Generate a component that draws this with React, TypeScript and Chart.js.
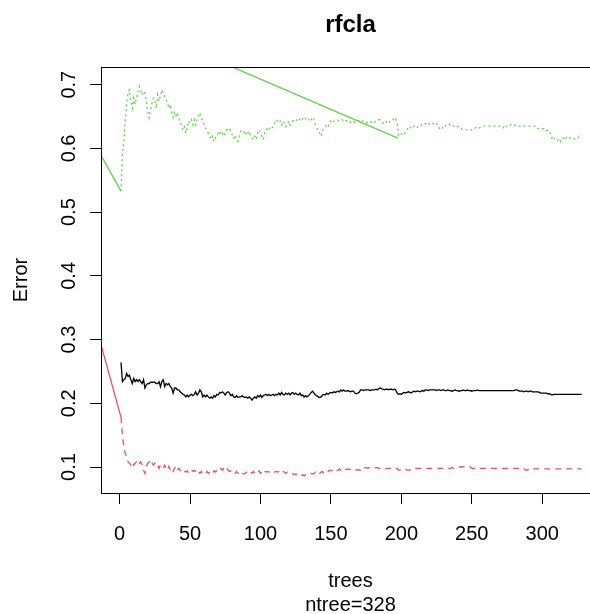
import React, { useEffect, useRef } from 'react';
import { Chart, registerables } from 'chart.js';

Chart.register(...registerables);

const chartTitle = 'rfcla';
const xTitle = 'trees';
const subTitle = 'ntree=328';
const yTitle = 'Error';

const xTickValues = [0, 50, 100, 150, 200, 250, 300];
const xTickLabels = ['0', '50', '100', '150', '200', '250', '300'];
const yTickValues = [0.1, 0.2, 0.3, 0.4, 0.5, 0.6, 0.7];
const yTickLabels = ['0.1', '0.2', '0.3', '0.4', '0.5', '0.6', '0.7'];

const X_MIN = -13.2;
const X_MAX = 341;
const Y_MIN = 0.0592;
const Y_MAX = 0.7278;

// OOB error (black, solid), trees 1..328
const oobError = [
  0.264,0.234,0.237,0.239,0.247,0.242,0.244,0.237,0.231,0.239,
  0.234,0.237,0.234,0.237,0.234,0.231,0.237,0.224,0.229,0.231,
  0.231,0.233,0.233,0.233,0.233,0.231,0.231,0.234,0.226,0.234,
  0.237,0.226,0.231,0.229,0.231,0.226,0.224,0.216,0.224,0.224,
  0.221,0.221,0.218,0.216,0.214,0.213,0.210,0.213,0.210,0.213,
  0.214,0.212,0.214,0.218,0.213,0.216,0.221,0.218,0.210,0.213,
  0.210,0.213,0.210,0.208,0.210,0.208,0.212,0.210,0.214,0.213,
  0.217,0.216,0.218,0.216,0.213,0.217,0.218,0.216,0.212,0.214,
  0.210,0.209,0.212,0.209,0.210,0.210,0.212,0.210,0.209,0.210,
  0.208,0.210,0.208,0.205,0.208,0.210,0.208,0.212,0.210,0.213,
  0.209,0.212,0.213,0.214,0.212,0.214,0.212,0.213,0.214,0.212,
  0.214,0.213,0.216,0.213,0.217,0.214,0.213,0.216,0.214,0.216,
  0.213,0.216,0.217,0.214,0.216,0.214,0.213,0.216,0.212,0.213,
  0.210,0.212,0.210,0.212,0.214,0.217,0.219,0.216,0.213,0.212,
  0.210,0.209,0.210,0.213,0.214,0.213,0.216,0.214,0.216,0.217,
  0.216,0.218,0.217,0.218,0.219,0.218,0.221,0.219,0.221,0.219,
  0.219,0.220,0.219,0.218,0.219,0.219,0.216,0.215,0.216,0.217,
  0.221,0.221,0.220,0.221,0.221,0.221,0.221,0.220,0.221,0.221,
  0.221,0.222,0.221,0.223,0.224,0.223,0.222,0.221,0.222,0.222,
  0.221,0.222,0.222,0.221,0.222,0.221,0.216,0.214,0.215,0.214,
  0.216,0.217,0.216,0.217,0.218,0.217,0.216,0.218,0.219,0.218,
  0.219,0.219,0.218,0.219,0.220,0.219,0.221,0.221,0.220,0.221,
  0.221,0.221,0.221,0.221,0.220,0.221,0.221,0.220,0.221,0.221,
  0.220,0.220,0.221,0.220,0.220,0.219,0.220,0.221,0.220,0.220,
  0.219,0.220,0.220,0.221,0.220,0.220,0.221,0.220,0.220,0.219,
  0.220,0.220,0.220,0.221,0.220,0.220,0.220,0.220,0.220,0.220,
  0.220,0.220,0.220,0.220,0.220,0.220,0.220,0.220,0.220,0.220,
  0.220,0.220,0.220,0.220,0.220,0.220,0.220,0.220,0.220,0.220,
  0.221,0.221,0.220,0.219,0.219,0.219,0.218,0.219,0.219,0.218,
  0.219,0.219,0.218,0.218,0.218,0.218,0.218,0.217,0.216,0.216,
  0.216,0.216,0.216,0.215,0.215,0.214,0.213,0.214,0.214,0.214,
  0.214,0.214,0.214,0.214,0.214,0.214,0.214,0.214,0.214,0.214,
  0.214,0.214,0.214,0.214,0.214,0.214,0.214,0.214,
];

// class 1 error (red, dashed)
const class1Error = [
  0.178,0.150,0.132,0.122,0.116,0.108,0.106,0.103,0.108,0.103,
  0.106,0.108,0.103,0.106,0.108,0.103,0.095,0.090,0.101,0.106,
  0.108,0.103,0.106,0.103,0.106,0.101,0.103,0.098,0.103,0.101,
  0.098,0.103,0.098,0.095,0.101,0.095,0.098,0.093,0.098,0.101,
  0.095,0.098,0.095,0.093,0.090,0.093,0.092,0.094,0.090,0.093,
  0.095,0.093,0.095,0.093,0.090,0.093,0.090,0.093,0.090,0.092,
  0.090,0.093,0.090,0.092,0.093,0.090,0.094,0.092,0.095,0.093,
  0.095,0.098,0.095,0.098,0.095,0.098,0.095,0.093,0.094,0.092,
  0.093,0.090,0.093,0.090,0.092,0.093,0.090,0.089,0.090,0.092,
  0.089,0.090,0.092,0.090,0.093,0.090,0.093,0.092,0.094,0.090,
  0.093,0.090,0.093,0.092,0.093,0.092,0.093,0.092,0.090,0.092,
  0.093,0.092,0.093,0.092,0.090,0.093,0.092,0.090,0.092,0.090,
  0.089,0.090,0.089,0.088,0.089,0.088,0.089,0.088,0.086,0.088,
  0.086,0.088,0.089,0.088,0.089,0.090,0.089,0.090,0.092,0.090,
  0.092,0.090,0.092,0.093,0.090,0.092,0.094,0.093,0.095,0.094,
  0.095,0.093,0.095,0.094,0.095,0.097,0.095,0.097,0.095,0.097,
  0.096,0.097,0.096,0.097,0.096,0.096,0.095,0.095,0.096,0.095,
  0.095,0.096,0.095,0.099,0.099,0.098,0.099,0.099,0.098,0.099,
  0.099,0.099,0.099,0.098,0.098,0.099,0.098,0.098,0.097,0.098,
  0.098,0.098,0.098,0.097,0.098,0.098,0.098,0.095,0.095,0.096,
  0.095,0.095,0.096,0.095,0.095,0.095,0.098,0.098,0.098,0.098,
  0.098,0.098,0.098,0.098,0.098,0.098,0.098,0.098,0.098,0.098,
  0.098,0.098,0.098,0.098,0.098,0.098,0.098,0.098,0.098,0.098,
  0.098,0.098,0.098,0.098,0.098,0.099,0.098,0.098,0.098,0.099,
  0.100,0.100,0.100,0.101,0.100,0.100,0.100,0.100,0.100,0.098,
  0.098,0.098,0.098,0.098,0.098,0.098,0.098,0.098,0.098,0.098,
  0.098,0.098,0.098,0.098,0.098,0.098,0.098,0.098,0.098,0.098,
  0.098,0.098,0.098,0.098,0.098,0.098,0.098,0.098,0.098,0.098,
  0.098,0.098,0.098,0.098,0.098,0.098,0.098,0.095,0.095,0.096,
  0.095,0.095,0.097,0.097,0.097,0.097,0.097,0.097,0.097,0.097,
  0.097,0.097,0.097,0.097,0.097,0.097,0.097,0.097,0.097,0.097,
  0.097,0.097,0.097,0.097,0.097,0.097,0.097,0.097,0.097,0.097,
  0.097,0.097,0.097,0.097,0.097,0.097,0.097,0.097,
];

// class 2 error (green, dotted)
const class2Error = [
  0.533,0.590,0.611,0.643,0.671,0.687,0.692,0.674,0.663,0.679,
  0.669,0.679,0.687,0.697,0.690,0.684,0.690,0.687,0.674,0.658,
  0.648,0.661,0.671,0.679,0.677,0.663,0.684,0.674,0.684,0.692,
  0.687,0.682,0.677,0.671,0.663,0.669,0.656,0.648,0.656,0.651,
  0.656,0.648,0.640,0.637,0.629,0.634,0.624,0.632,0.643,0.640,
  0.645,0.637,0.645,0.637,0.645,0.651,0.656,0.648,0.643,0.637,
  0.632,0.627,0.624,0.619,0.614,0.619,0.611,0.616,0.621,0.624,
  0.621,0.627,0.624,0.619,0.624,0.629,0.632,0.631,0.627,0.621,
  0.616,0.621,0.614,0.611,0.619,0.627,0.629,0.627,0.621,0.627,
  0.624,0.627,0.621,0.616,0.614,0.619,0.614,0.624,0.629,0.624,
  0.619,0.614,0.624,0.629,0.632,0.629,0.634,0.632,0.634,0.640,
  0.645,0.643,0.640,0.643,0.637,0.643,0.640,0.634,0.637,0.643,
  0.637,0.640,0.643,0.645,0.643,0.645,0.648,0.645,0.643,0.647,
  0.644,0.647,0.643,0.645,0.648,0.645,0.649,0.645,0.637,0.632,
  0.627,0.624,0.619,0.627,0.632,0.634,0.637,0.634,0.640,0.643,
  0.640,0.643,0.643,0.644,0.643,0.645,0.644,0.645,0.643,0.645,
  0.643,0.644,0.643,0.641,0.643,0.643,0.641,0.643,0.644,0.643,
  0.641,0.643,0.643,0.641,0.640,0.641,0.640,0.642,0.641,0.639,
  0.641,0.643,0.644,0.645,0.645,0.643,0.640,0.638,0.641,0.643,
  0.640,0.643,0.645,0.646,0.643,0.646,0.640,0.621,0.624,0.622,
  0.624,0.622,0.625,0.630,0.633,0.631,0.634,0.632,0.635,0.634,
  0.632,0.635,0.634,0.636,0.638,0.637,0.639,0.638,0.640,0.638,
  0.639,0.637,0.640,0.638,0.639,0.636,0.631,0.629,0.632,0.636,
  0.635,0.637,0.636,0.638,0.636,0.637,0.635,0.634,0.635,0.634,
  0.635,0.633,0.630,0.629,0.629,0.629,0.629,0.630,0.629,0.629,
  0.630,0.631,0.633,0.634,0.632,0.633,0.634,0.635,0.635,0.635,
  0.635,0.635,0.635,0.635,0.635,0.635,0.635,0.635,0.635,0.635,
  0.635,0.635,0.631,0.635,0.635,0.635,0.635,0.638,0.638,0.638,
  0.635,0.635,0.635,0.635,0.635,0.635,0.635,0.635,0.635,0.635,
  0.635,0.635,0.635,0.635,0.635,0.635,0.631,0.631,0.631,0.631,
  0.631,0.628,0.628,0.628,0.628,0.622,0.616,0.619,0.614,0.615,
  0.613,0.616,0.611,0.614,0.616,0.613,0.617,0.619,0.617,0.616,
  0.617,0.616,0.615,0.614,0.615,0.619,0.621,0.621,
];

// stray solid segments visible in the reference
const leadX = [X_MIN, 1];
const class1LeadY = [0.292, 0.178];
const class2LeadY = [0.589, 0.533];
const class2StrayX = [75, 197.5];
const class2StrayY = [0.7325, 0.6163];

const COL_OOB = '#000000';
const COL_C1 = '#DF536B';
const COL_C2 = '#61D04F';
const FONT = '"Liberation Sans", Arial, Helvetica, sans-serif';

const toPts = (ys: number[]) => ys.map((y, i) => ({ x: i + 1, y }));
const pair = (xs: number[], ys: number[]) => xs.map((x, i) => ({ x, y: ys[i] }));

const rTextPlugin = {
  id: 'rText',
  afterDraw(chart: any) {
    const ctx = chart.ctx as CanvasRenderingContext2D;
    const { left, top, right, bottom } = chart.chartArea;
    const xs = chart.scales.x;
    const ys = chart.scales.y;
    ctx.save();
    ctx.strokeStyle = '#000';
    ctx.lineWidth = 1;
    ctx.strokeRect(left + 0.5, top + 0.5, right - left, bottom - top);
    ctx.fillStyle = '#000';
    ctx.font = `20px ${FONT}`;
    ctx.textAlign = 'center';
    ctx.textBaseline = 'alphabetic';
    xs.ticks.forEach((t: any, i: number) => {
      ctx.fillText(xTickLabels[i], xs.getPixelForValue(t.value), bottom + 47);
    });
    ys.ticks.forEach((t: any, i: number) => {
      const y = ys.getPixelForValue(t.value);
      ctx.save();
      ctx.translate(left - 26, y);
      ctx.rotate(-Math.PI / 2);
      ctx.fillText(yTickLabels[i], 0, 0);
      ctx.restore();
    });
    const cx = (left + right) / 2;
    ctx.fillText(xTitle, cx, bottom + 94);
    ctx.fillText(subTitle, cx, bottom + 118);
    ctx.save();
    ctx.translate(left - 74, (top + bottom) / 2);
    ctx.rotate(-Math.PI / 2);
    ctx.fillText(yTitle, 0, 0);
    ctx.restore();
    ctx.font = `bold 24px ${FONT}`;
    ctx.fillText(chartTitle, cx, 32);
    ctx.restore();
  },
};

export default function App() {
  const ref = useRef<HTMLCanvasElement>(null);
  useEffect(() => {
    if (!ref.current) return;
    const lineBase = { pointRadius: 0, borderWidth: 1.3, fill: false, tension: 0 };
    const chart = new Chart(ref.current, {
      type: 'line',
      data: {
        datasets: [
          { ...lineBase, data: toPts(oobError), borderColor: COL_OOB },
          { ...lineBase, data: toPts(class1Error), borderColor: COL_C1, borderDash: [6, 5] },
          { ...lineBase, data: toPts(class2Error), borderColor: COL_C2, borderDash: [2, 3] },
          { ...lineBase, data: pair(leadX, class1LeadY), borderColor: COL_C1 },
          { ...lineBase, data: pair(leadX, class2LeadY), borderColor: COL_C2 },
          { ...lineBase, data: pair(class2StrayX, class2StrayY), borderColor: COL_C2 },
        ],
      },
      options: {
        responsive: false,
        devicePixelRatio: 1,
        animation: false,
        events: [],
        layout: { padding: { left: 0, right: 20, top: 67, bottom: 0 } },
        plugins: { legend: { display: false }, tooltip: { enabled: false }, title: { display: false } },
        scales: {
          x: {
            type: 'linear',
            min: X_MIN,
            max: X_MAX,
            afterBuildTicks: (s: any) => { s.ticks = xTickValues.map((v) => ({ value: v })); },
            afterFit: (s: any) => { s.height = 121; },
            grid: { display: true, drawOnChartArea: false, drawTicks: true, tickLength: 11, color: '#000', lineWidth: 1 },
            border: { display: false },
            ticks: { display: false },
          },
          y: {
            type: 'linear',
            min: Y_MIN,
            max: Y_MAX,
            afterBuildTicks: (s: any) => { s.ticks = yTickValues.map((v) => ({ value: v })); },
            afterFit: (s: any) => { s.width = 101; },
            grid: { display: true, drawOnChartArea: false, drawTicks: true, tickLength: 11, color: '#000', lineWidth: 1 },
            border: { display: false },
            ticks: { display: false },
          },
        },
      } as any,
      plugins: [rTextPlugin],
    });
    return () => chart.destroy();
  }, []);
  return (
    <div style={{ position: 'absolute', left: 0, top: 0, width: 590, height: 614, overflow: 'hidden', background: '#fff' }}>
      <canvas ref={ref} width={620} height={614} style={{ display: 'block', width: 620, height: 614 }} />
    </div>
  );
}
